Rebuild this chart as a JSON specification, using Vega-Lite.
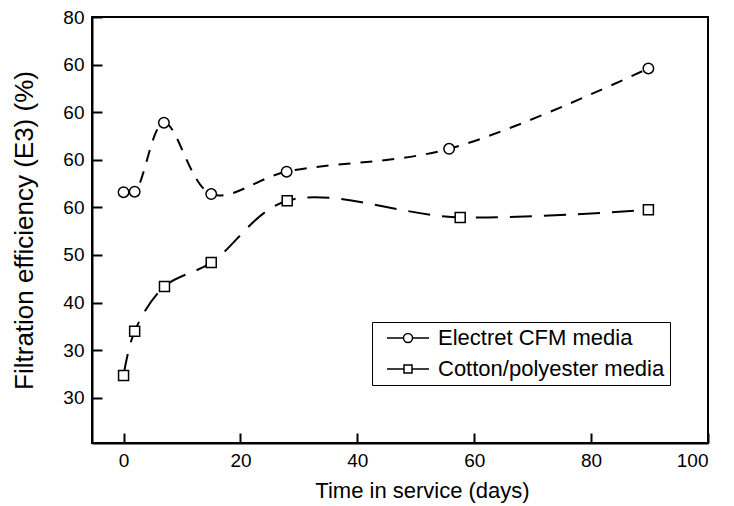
{
  "$schema": "https://vega.github.io/schema/vega-lite/v6.json",
  "width": 616,
  "height": 426,
  "autosize": {"type": "none"},
  "padding": {"left": 92, "top": 17, "right": 26, "bottom": 63},
  "background": "white",
  "config": {
    "view": {"stroke": "black", "strokeWidth": 2},
    "font": "Liberation Sans",
    "axis": {
      "domainColor": "black",
      "domainWidth": 2,
      "ticks": true,
      "tickColor": "black",
      "tickWidth": 2,
      "labelColor": "black",
      "titleColor": "black",
      "labelFont": "Liberation Sans",
      "titleFont": "Liberation Sans",
      "labelFontSize": 19,
      "titleFontSize": 22,
      "titleFontWeight": "normal",
      "grid": false,
      "zindex": 1
    }
  },
  "data": {
    "values": [
      {"series": "Electret CFM media", "days": 0, "eff": 63.2},
      {"series": "Electret CFM media", "days": 1.9, "eff": 63.3},
      {"series": "Electret CFM media", "days": 6.9, "eff": 77.8},
      {"series": "Electret CFM media", "days": 15, "eff": 62.8},
      {"series": "Electret CFM media", "days": 27.9, "eff": 67.5},
      {"series": "Electret CFM media", "days": 55.7, "eff": 72.3},
      {"series": "Electret CFM media", "days": 89.8, "eff": 89.2},
      {"series": "Cotton/polyester media", "days": 0, "eff": 24.7},
      {"series": "Cotton/polyester media", "days": 1.9, "eff": 34.0},
      {"series": "Cotton/polyester media", "days": 7.0, "eff": 43.4},
      {"series": "Cotton/polyester media", "days": 15, "eff": 48.4},
      {"series": "Cotton/polyester media", "days": 28.0, "eff": 61.4},
      {"series": "Cotton/polyester media", "days": 57.6, "eff": 57.9},
      {"series": "Cotton/polyester media", "days": 89.8, "eff": 59.5}
    ]
  },
  "encoding": {
    "x": {
      "field": "days",
      "type": "quantitative",
      "scale": {"domain": [-5.4, 100], "nice": false, "zero": false},
      "axis": {
        "values": [0, 20, 40, 60, 80, 100],
        "tickSize": -10,
        "labelPadding": 18,
        "title": "Time in service (days)",
        "titleX": 330,
        "titlePadding": 10
      }
    },
    "y": {
      "field": "eff",
      "type": "quantitative",
      "scale": {"domain": [10.5, 100], "nice": false, "zero": false},
      "axis": {
        "values": [20, 30, 40, 50, 60, 70, 80, 90, 100],
        "tickSize": -10,
        "labelPadding": 18,
        "labelExpr": "datum.value == 100 ? '80' : datum.value >= 60 ? '60' : datum.value == 20 ? '30' : datum.label",
        "title": "Filtration efficiency (E3) (%)",
        "titleFontSize": 26,
        "titlePadding": 25
      }
    }
  },
  "layer": [
    {
      "transform": [{"filter": "datum.series == 'Electret CFM media'"}],
      "mark": {"type": "line", "interpolate": "catmull-rom", "color": "black", "strokeWidth": 2, "strokeDash": [12, 10]},
      "encoding": {}
    },
    {
      "transform": [{"filter": "datum.series == 'Cotton/polyester media'"}],
      "mark": {"type": "line", "interpolate": "catmull-rom", "color": "black", "strokeWidth": 2, "strokeDash": [22, 12]},
      "encoding": {}
    },
    {
      "transform": [{"filter": "datum.series == 'Electret CFM media'"}],
      "mark": {"type": "point", "shape": "circle", "filled": true, "fill": "white", "stroke": "black", "strokeWidth": 1.5, "size": 110, "opacity": 1},
      "encoding": {}
    },
    {
      "transform": [{"filter": "datum.series == 'Cotton/polyester media'"}],
      "mark": {"type": "point", "shape": "square", "filled": true, "fill": "white", "stroke": "black", "strokeWidth": 1.5, "size": 100, "opacity": 1},
      "encoding": {}
    },
    {
      "mark": {"type": "point", "filled": false, "color": "black", "strokeWidth": 1.5, "opacity": 0},
      "encoding": {
        "shape": {
          "field": "series",
          "type": "nominal",
          "scale": {
            "domain": ["Electret CFM media", "Cotton/polyester media"],
            "range": [
              "M-0.1,0L1.55,0M2.45,0L4.1,0M2.45,0A0.45,0.45,0,1,1,1.55,0A0.45,0.45,0,1,1,2.45,0Z",
              "M-0.1,0L1.6,0M2.4,0L4.1,0M1.6,-0.4L2.4,-0.4L2.4,0.4L1.6,0.4Z"
            ]
          },
          "legend": {
            "title": null,
            "orient": "none",
            "legendX": 280,
            "legendY": 305,
            "padding": 5,
            "rowPadding": 9,
            "strokeColor": "black",
            "fillColor": "white",
            "symbolSize": 400,
            "symbolStrokeColor": "black",
            "symbolStrokeWidth": 1.5,
            "labelFontSize": 22,
            "labelFont": "Liberation Sans",
            "labelColor": "black",
            "labelLimit": 400,
            "labelOffset": 39,
            "encode": {
              "symbols": {
                "update": {
                  "stroke": {"value": "black"},
                  "strokeWidth": {"value": 1.5},
                  "opacity": {"value": 1}
                }
              }
            }
          }
        }
      }
    }
  ]
}
